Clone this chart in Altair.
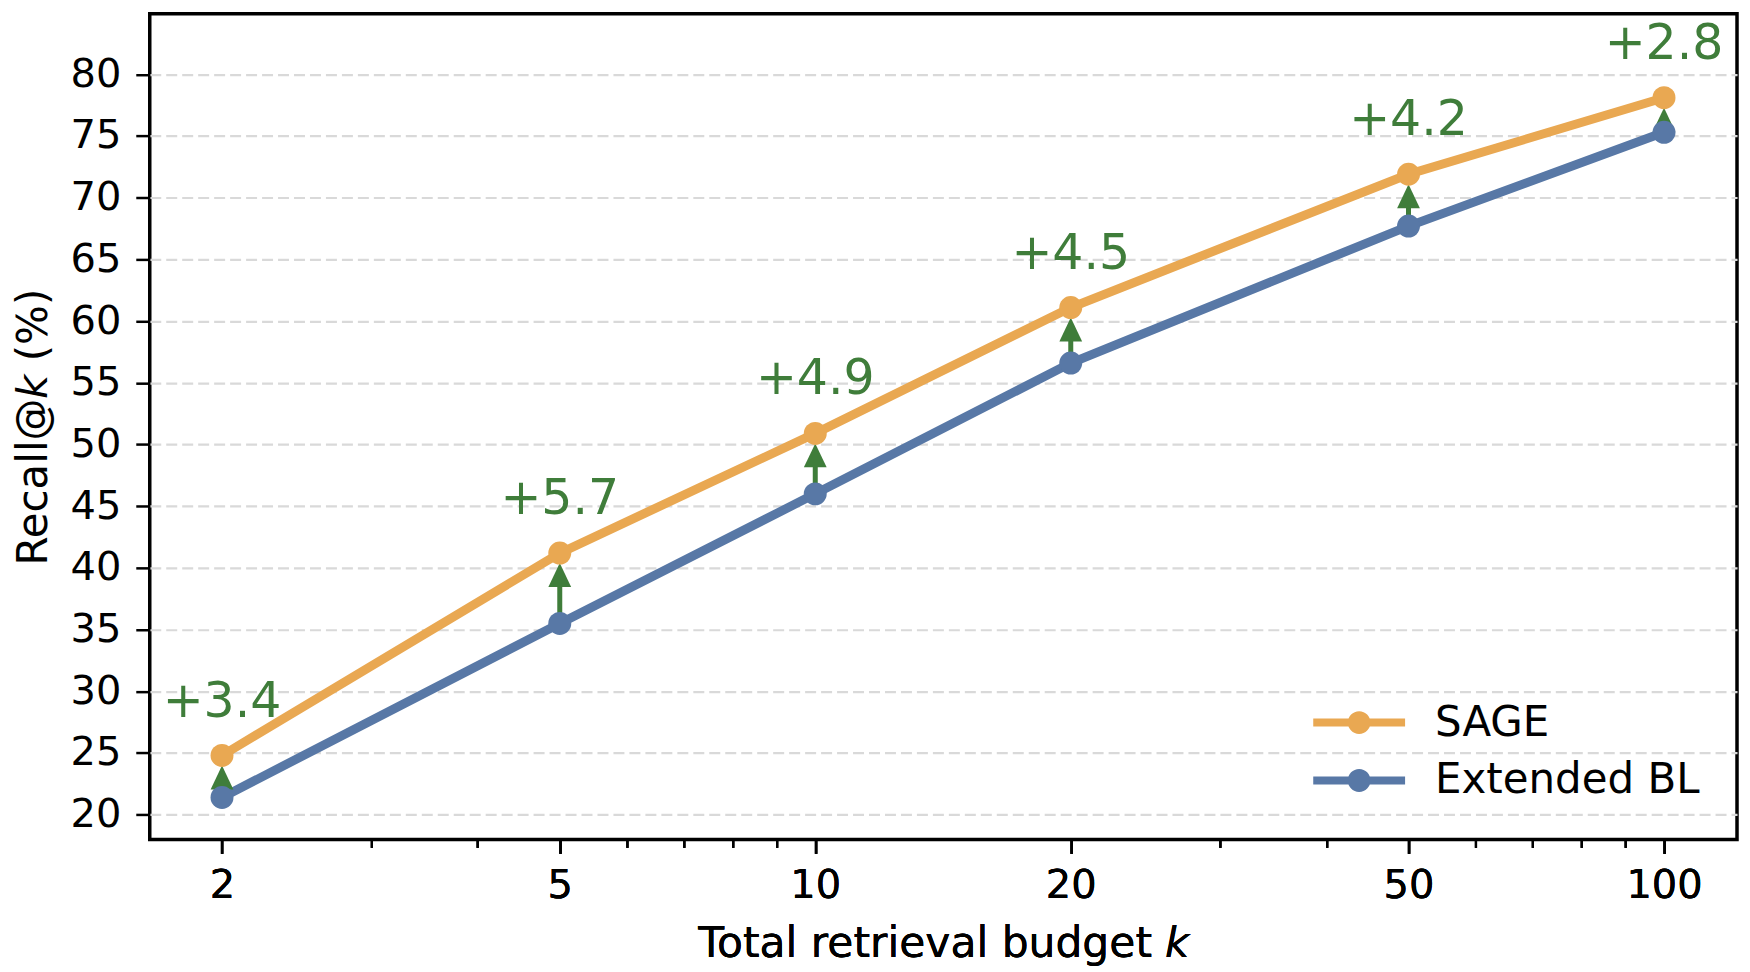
import altair as alt
import pandas as pd

# ---- data ----
k_values = [2, 5, 10, 20, 50, 100]
sage = [24.8, 41.2, 50.9, 61.1, 71.9, 78.1]
ext_bl = [21.4, 35.5, 46.0, 56.6, 67.7, 75.3]
gains = ["+3.4", "+5.7", "+4.9", "+4.5", "+4.2", "+2.8"]
methods = ["SAGE", "Extended BL"]
colors = ["#E9A852", "#5878A6"]
green = "#3F7D3A"
x_major = [2, 5, 10, 20, 50, 100]
x_minor = [3, 4, 6, 7, 8, 9, 30, 40, 60, 70, 80, 90]
y_ticks = [20, 25, 30, 35, 40, 45, 50, 55, 60, 65, 70, 75, 80]

long_df = pd.DataFrame(
    {
        "k": k_values * 2,
        "method": [methods[0]] * len(k_values) + [methods[1]] * len(k_values),
        "recall": sage + ext_bl,
    }
)
wide_df = pd.DataFrame({"k": k_values, "sage": sage, "bl": ext_bl, "gain": gains})

FONT = "DejaVu Sans"
W, H = 1590, 827

x_scale = alt.Scale(type="log", domain=[1.644, 121.9], nice=False)
y_scale = alt.Scale(domain=[18.0, 84.9], nice=False, zero=False)

x_axis_major = alt.Axis(
    values=x_major,
    title="Total retrieval budget 𝘬",
    titleFontSize=42.5,
    titleFont=FONT,
    titleFontWeight="normal",
    titleColor="black",
    titlePadding=17,
    labelFontSize=40,
    labelFont=FONT,
    labelColor="black",
    labelPadding=12,
    labelFlush=False,
    labelOverlap=False,
    tickSize=14,
    tickWidth=2.5,
    tickColor="black",
    domain=False,
    grid=False,
    format="d",
    orient="bottom",
)
x_axis_minor = alt.Axis(
    values=x_minor,
    title=None,
    labels=False,
    tickSize=8,
    tickWidth=2.2,
    tickColor="black",
    domain=False,
    grid=False,
    orient="bottom",
)
y_axis = alt.Axis(
    values=y_ticks,
    title="Recall@𝘬 (%)",
    titleFontSize=42,
    titleFont=FONT,
    titleFontWeight="normal",
    titleColor="black",
    titlePadding=15,
    labelFontSize=40,
    labelFont=FONT,
    labelColor="black",
    labelPadding=15,
    tickSize=14,
    tickWidth=2.5,
    tickColor="black",
    domain=False,
    grid=True,
    gridColor="#d9d9d9",
    gridWidth=2.2,
    gridDash=[11, 5],
)

legend_path = (
    "M-2.3,-0.2L2.3,-0.2L2.3,0.2L-2.3,0.2Z"
    "M0.57,0A0.57,0.57,0,1,1,-0.57,0A0.57,0.57,0,1,1,0.57,0Z"
)

legend = alt.Legend(
    title=None,
    orient="none",
    legendX=1165,
    legendY=689,
    labelFontSize=42,
    labelFont=FONT,
    labelColor="black",
    labelLimit=500,
    symbolType=legend_path,
    symbolSize=1600,
    symbolStrokeWidth=0,
    symbolOpacity=1,
    symbolOffset=25.5,
    labelOffset=55,
    rowPadding=16,
    padding=0,
)


def series_line(name, col):
    return (
        alt.Chart(long_df)
        .transform_filter(alt.datum.method == name)
        .mark_line(strokeWidth=9, color=col)
        .encode(
            x=alt.X("k:Q", scale=x_scale, axis=x_axis_major),
            y=alt.Y("recall:Q", scale=y_scale, axis=y_axis),
        )
    )


line_bl = series_line(methods[1], colors[1])
line_sage = series_line(methods[0], colors[0])

points = (
    alt.Chart(long_df)
    .mark_point(filled=True, size=529, opacity=1)
    .encode(
        x=alt.X("k:Q", scale=x_scale, axis=x_axis_major),
        y=alt.Y("recall:Q", scale=y_scale, axis=y_axis),
        color=alt.Color(
            "method:N",
            scale=alt.Scale(domain=methods, range=colors),
            sort=methods,
            legend=legend,
        ),
    )
)

shafts = (
    alt.Chart(wide_df)
    .mark_rule(color=green, strokeWidth=5, yOffset=-6, y2Offset=25)
    .encode(
        x=alt.X("k:Q", scale=x_scale, axis=x_axis_minor),
        y=alt.Y("bl:Q", scale=y_scale),
        y2="sage:Q",
    )
)

heads = (
    alt.Chart(wide_df)
    .mark_point(
        shape="M0,-1L-0.95,1L0.95,1Z",
        filled=True,
        size=576,
        color=green,
        opacity=1,
        yOffset=22,
    )
    .encode(
        x=alt.X("k:Q", scale=x_scale, axis=x_axis_minor),
        y=alt.Y("sage:Q", scale=y_scale),
    )
)

labels = (
    alt.Chart(wide_df)
    .mark_text(
        color=green,
        fontSize=49,
        font=FONT,
        baseline="alphabetic",
        align="center",
        dy=-39,
    )
    .encode(
        x=alt.X("k:Q", scale=x_scale, axis=x_axis_minor),
        y=alt.Y("sage:Q", scale=y_scale),
        text="gain:N",
    )
)

chart = (
    alt.layer(line_bl, line_sage, shafts, heads, points, labels)
    .resolve_axis(x="independent")
    .properties(
        width=W,
        height=H,
        padding={"left": 4, "top": 5, "right": 5, "bottom": 5},
        background="white",
    )
    .configure_view(stroke="black", strokeWidth=3.5)
)

chart.save("out.html", embed_options={"renderer": "svg", "actions": False})
